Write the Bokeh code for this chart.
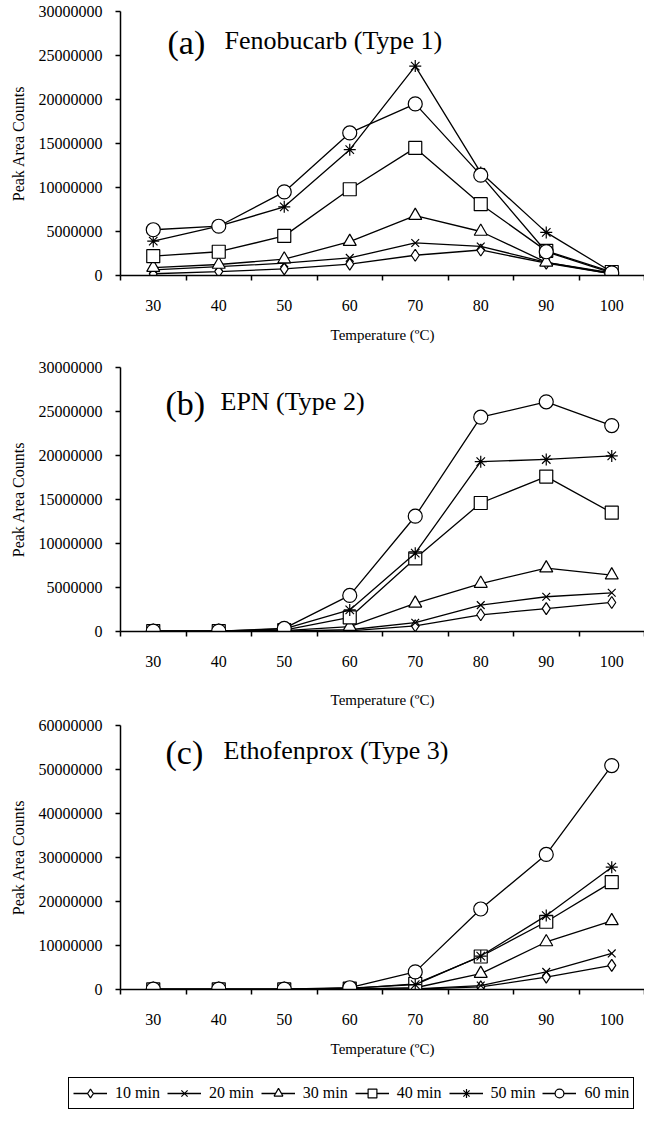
from bokeh.plotting import figure
from bokeh.models import Range1d, FixedTicker, BasicTickFormatter, Label, Legend, LegendItem
from bokeh.layouts import column
from bokeh.embed import file_html
from bokeh.resources import INLINE

temps = [30, 40, 50, 60, 70, 80, 90, 100]
temp_bounds = [25, 35, 45, 55, 65, 75, 85, 95, 105]
series_names = ["10 min", "20 min", "30 min", "40 min", "50 min", "60 min"]

# (a) Fenobucarb (Type 1)
feno_10 = [200000, 450000, 750000, 1300000, 2300000, 2900000, 1400000, 200000]
feno_20 = [650000, 1000000, 1400000, 2000000, 3700000, 3300000, 1500000, 200000]
feno_30 = [900000, 1250000, 1850000, 3850000, 6800000, 5000000, 1500000, 300000]
feno_40 = [2200000, 2700000, 4500000, 9800000, 14500000, 8100000, 2800000, 400000]
feno_50 = [3900000, 5600000, 7800000, 14300000, 23800000, 11700000, 4900000, 400000]
feno_60 = [5200000, 5600000, 9500000, 16200000, 19500000, 11400000, 2700000, 300000]

# (b) EPN (Type 2)
epn_10 = [10000, 10000, 30000, 80000, 650000, 1900000, 2600000, 3300000]
epn_20 = [10000, 10000, 50000, 200000, 1000000, 3000000, 3950000, 4400000]
epn_30 = [20000, 20000, 100000, 550000, 3200000, 5450000, 7200000, 6400000]
epn_40 = [50000, 50000, 150000, 1600000, 8300000, 14600000, 17600000, 13500000]
epn_50 = [50000, 50000, 300000, 2450000, 8900000, 19300000, 19550000, 19950000]
epn_60 = [50000, 50000, 350000, 4100000, 13100000, 24350000, 26100000, 23400000]

# (c) Ethofenprox (Type 3)
etho_10 = [20000, 20000, 20000, 20000, 100000, 600000, 2800000, 5500000]
etho_20 = [20000, 20000, 20000, 50000, 150000, 900000, 4000000, 8200000]
etho_30 = [30000, 30000, 30000, 100000, 400000, 3600000, 10800000, 15600000]
etho_40 = [50000, 50000, 50000, 200000, 1300000, 7500000, 15400000, 24400000]
etho_50 = [50000, 50000, 50000, 300000, 1100000, 7600000, 16800000, 27800000]
etho_60 = [100000, 100000, 100000, 400000, 4000000, 18300000, 30700000, 50900000]

markers = ["diamond", "x", "triangle", "square", "asterisk", "circle"]
marker_sizes = [12, 11, 13, 13, 12, 14]

FONT = "Liberation Serif"


def make_panel(series, ymax, ystep, tag, name, tag_x, name_x, base_from_top, height, xlab_standoff):
    p = figure(width=644, height=height, x_range=Range1d(25, 105), y_range=Range1d(0, ymax),
               output_backend="svg", toolbar_location=None,
               min_border_left=120, min_border_right=0, min_border_top=11,
               min_border_bottom=height - 11 - 264)
    p.outline_line_color = None
    p.xgrid.visible = False
    p.ygrid.visible = False
    p.background_fill_color = "white"

    for vals, mk, ms in zip(series, markers, marker_sizes):
        p.line(temps, vals, line_color="black", line_width=1.3)
        p.scatter(temps, vals, marker=mk, size=ms, fill_color="white",
                  line_color="black", line_width=1.2)

    xa = p.xaxis[0]
    xa.ticker = FixedTicker(ticks=temps, minor_ticks=temp_bounds)
    xa.major_tick_out = 0
    xa.major_tick_in = 0
    xa.minor_tick_out = 5
    xa.minor_tick_in = 0
    xa.minor_tick_line_color = "black"
    xa.minor_tick_line_width = 1.5
    xa.axis_line_width = 1.5
    xa.axis_line_color = "black"
    xa.major_label_standoff = 19
    xa.major_label_text_font = FONT
    xa.major_label_text_font_size = "16px"
    xa.major_label_text_color = "black"
    xa.axis_label = "Temperature (\u00baC)"
    xa.axis_label_text_font = FONT
    xa.axis_label_text_font_size = "15px"
    xa.axis_label_text_font_style = "normal"
    xa.axis_label_text_color = "black"
    xa.axis_label_standoff = xlab_standoff

    ya = p.yaxis[0]
    ya.ticker = FixedTicker(ticks=list(range(0, ymax + 1, ystep)))
    ya.formatter = BasicTickFormatter(use_scientific=False)
    ya.major_tick_out = 5
    ya.major_tick_in = 0
    ya.minor_tick_out = 0
    ya.minor_tick_in = 0
    ya.major_tick_line_width = 1.5
    ya.axis_line_width = 1.5
    ya.axis_line_color = "black"
    ya.major_tick_line_color = "black"
    ya.major_label_standoff = 13
    ya.major_label_text_font = FONT
    ya.major_label_text_font_size = "16px"
    ya.major_label_text_color = "black"
    ya.axis_label = "Peak Area Counts"
    ya.axis_label_text_font = FONT
    ya.axis_label_text_font_size = "16px"
    ya.axis_label_text_font_style = "normal"
    ya.axis_label_text_color = "black"
    ya.axis_label_standoff = 9

    base_y = 264 - base_from_top
    p.add_layout(Label(x=tag_x, y=base_y - 2, x_units="screen", y_units="screen", text=tag,
                       text_font=FONT, text_font_size="34px", text_color="black",
                       text_baseline="alphabetic"))
    p.add_layout(Label(x=name_x, y=base_y, x_units="screen", y_units="screen", text=name,
                       text_font=FONT, text_font_size="26px", text_color="black",
                       text_baseline="alphabetic"))
    return p


p1 = make_panel([feno_10, feno_20, feno_30, feno_40, feno_50, feno_60], 30000000, 5000000,
                "(a)", "Fenobucarb (Type 1)", 47, 104, 29, 356, 13)
p2 = make_panel([epn_10, epn_20, epn_30, epn_40, epn_50, epn_60], 30000000, 5000000,
                "(b)", "EPN (Type 2)", 45, 100, 34, 358, 22)
p3 = make_panel([etho_10, etho_20, etho_30, etho_40, etho_50, etho_60], 60000000, 10000000,
                "(c)", "Ethofenprox (Type 3)", 45, 103, 25, 358, 13)

# legend strip (no axes, frame covers the whole figure)
pl = figure(width=644, height=37, x_range=Range1d(0, 1), y_range=Range1d(0, 1),
            output_backend="svg", toolbar_location=None,
            x_axis_location=None, y_axis_location=None,
            min_border_left=0, min_border_right=0, min_border_top=0, min_border_bottom=0)
pl.xgrid.visible = False
pl.ygrid.visible = False
pl.outline_line_color = None
items = []
for nm, mk in zip(series_names, markers):
    r1 = pl.line([-5, -4], [-5, -4], line_color="black", line_width=1.3)
    r2 = pl.scatter([-5], [-5], marker=mk, size=10, fill_color="white",
                    line_color="black", line_width=1.2)
    items.append(LegendItem(label=nm, renderers=[r1, r2]))
leg = Legend(items=items, orientation="horizontal", location=(68, 0))
leg.border_line_color = "black"
leg.border_line_width = 1
leg.border_line_alpha = 1
leg.background_fill_color = "white"
leg.background_fill_alpha = 1
leg.label_text_font = FONT
leg.label_text_font_size = "16px"
leg.label_text_color = "black"
leg.glyph_width = 34
leg.glyph_height = 22
leg.label_standoff = 8
leg.spacing = 7
leg.padding = 4
leg.margin = 0
pl.add_layout(leg)

panels = column(p1, p2, p3, spacing=0)
layout = column(panels, pl, spacing=0)
open("out.html", "w").write(file_html(layout, INLINE))
